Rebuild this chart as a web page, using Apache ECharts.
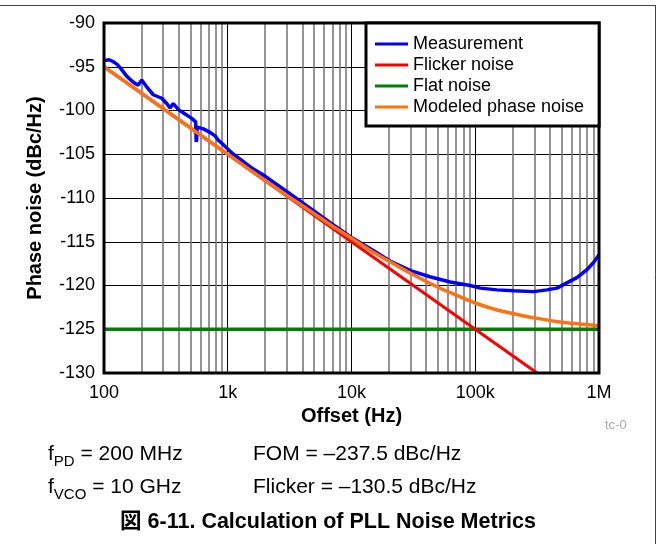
<!DOCTYPE html>
<html>
<head>
<meta charset="utf-8">
<script src="https://cdn.jsdelivr.net/npm/echarts@6/dist/echarts.min.js"></script>
<style>
html,body{margin:0;padding:0;background:#fff;}
#chart{width:658px;height:544px;}
</style>
</head>
<body>
<div id="chart"></div>
<script>
// ---- data ----
const measFreq = [100,110,118,127,135,153,167,178,189,202,221,250,293,321,342,363,399,452,512,550,556,561,566,578,635,719,789,839,921,1000,1110,1610,2000,3390,5000,7000,10000,15000,20500,30000,43000,62600,91000,110000,150000,204000,296000,379000,457000,550000,662000,798000,900000,1000000];
const measValues = [-94.3,-94.2,-94.4,-94.7,-95.1,-96.1,-96.6,-96.9,-97.1,-96.5,-97.3,-98.2,-98.6,-99.2,-99.7,-99.2,-99.9,-100.4,-100.9,-101.3,-103.6,-103.3,-101.9,-101.8,-102.1,-102.5,-102.9,-103.4,-103.9,-104.4,-105.0,-106.7,-107.5,-109.8,-111.5,-113.0,-114.5,-116.0,-117.2,-118.3,-119.0,-119.6,-120.0,-120.3,-120.5,-120.6,-120.7,-120.5,-120.3,-119.7,-119.1,-118.2,-117.4,-116.5];

const flickerFreq = [100, 316000];
const flickerValues = [-95, -130];

const flatFreq = [100, 1000000];
const flatValues = [-125, -125];

const modelFreq = [100,200,500,1000,2000,3000,5000,7000,10000,15000,20000,30000,50000,70000,100000,150000,200000,300000,500000,700000,1000000];
const modelValues = [-95.0,-98.0,-102.0,-105.0,-108.0,-109.7,-111.8,-113.2,-114.6,-116.2,-117.2,-118.6,-120.2,-121.1,-122.0,-122.8,-123.2,-123.7,-124.2,-124.4,-124.6];

const seriesNames = ['Measurement','Flicker noise','Flat noise','Modeled phase noise'];
const xTickValues = [100,1000,10000,100000,1000000];
const xTickLabels = ['100','1k','10k','100k','1M'];
const yTicks = [-130,-125,-120,-115,-110,-105,-100,-95,-90];

const noteLines = [
  ['{m|f}{sub|PD}{m| = 200 MHz}', '{m|FOM = –237.5 dBc/Hz}'],
  ['{m|f}{sub|VCO}{m| = 10 GHz}', '{m|Flicker = –130.5 dBc/Hz}']
];
const captionText = '図 6-11. Calculation of PLL Noise Metrics';
const cornerTag = 'tc-0';

// ---- build ----
const zip = (xs, ys) => xs.map((x, i) => [x, ys[i]]);
const FONT = '"Liberation Sans", Arial, "Noto Sans CJK JP", sans-serif';

// minor grid lines (2..9 × each decade), drawn through the axes
const minorGrid = [];
for (let d = 0; d < xTickValues.length - 1; d++) {
  for (let m = 2; m <= 9; m++) {
    const f = xTickValues[d] * m;
    minorGrid.push({coords: [[f, yTicks[0]], [f, yTicks[yTicks.length - 1]]]});
  }
}

const noteRich = {
  m: {fontSize: 21, lineHeight: 24, verticalAlign: 'top', fontFamily: FONT, color: '#000'},
  sub: {fontSize: 15, lineHeight: 15, padding: [10, 0, 0, 0], verticalAlign: 'top', fontFamily: FONT, color: '#000'}
};

const chart = echarts.init(document.getElementById('chart'), null, {renderer: 'canvas'});

const option = {
  animation: false,
  backgroundColor: '#fff',
  textStyle: {fontFamily: FONT},
  grid: {
    left: 104, top: 23, right: 59, bottom: 171,
    outerBoundsMode: 'none', containLabel: false,
    show: true, borderWidth: 0, backgroundColor: '#fff'
  },
  legend: {
    data: seriesNames,
    orient: 'vertical',
    left: 366, top: 23,
    z: 20,
    padding: [12, 15, 10, 9],
    itemGap: 3,
    itemWidth: 33, itemHeight: 3,
    itemTextGap: 10,
    icon: 'rect',
    backgroundColor: '#fff',
    borderColor: '#000', borderWidth: 3, borderRadius: 0,
    textStyle: {color: '#000', fontSize: 18, fontFamily: FONT}
  },
  xAxis: {
    type: 'log', logBase: 10, min: 100, max: 1000000,
    axisLine: {show: false},
    axisTick: {show: false},
    axisLabel: {
      color: '#000', fontSize: 18, margin: 11, fontFamily: FONT,
      formatter: v => {
        const i = xTickValues.findIndex(t => Math.abs(t - v) / t < 1e-6);
        return i >= 0 ? xTickLabels[i] : '';
      }
    },
    splitLine: {show: true, lineStyle: {color: '#000', width: 1}},
    name: 'Offset (Hz)', nameLocation: 'middle', nameGap: 30,
    nameTextStyle: {color: '#000', fontSize: 20, fontWeight: 'bold', fontFamily: FONT}
  },
  yAxis: {
    type: 'value', min: yTicks[0], max: yTicks[yTicks.length - 1], interval: 5,
    axisLine: {show: false},
    axisTick: {show: false},
    axisLabel: {color: '#000', fontSize: 18, margin: 9, fontFamily: FONT},
    splitLine: {show: true, lineStyle: {color: '#000', width: 1}},
    name: 'Phase noise (dBc/Hz)', nameLocation: 'middle', nameGap: 59,
    nameTextStyle: {color: '#000', fontSize: 20, fontWeight: 'bold', fontFamily: FONT}
  },
  series: [
    {
      name: '_minorgrid', type: 'lines', coordinateSystem: 'cartesian2d',
      silent: true, z: 1, animation: false,
      lineStyle: {color: '#7a7a7a', width: 1.6, opacity: 1},
      emphasis: {disabled: true},
      data: minorGrid
    },
    {
      name: seriesNames[2], type: 'line', data: zip(flatFreq, flatValues),
      showSymbol: false, symbol: 'none', z: 3,
      lineStyle: {color: '#008000', width: 3.5}, itemStyle: {color: '#008000'}
    },
    {
      name: seriesNames[0], type: 'line', data: zip(measFreq, measValues),
      showSymbol: false, symbol: 'none', z: 4,
      lineStyle: {color: '#0000ff', width: 3.5}, itemStyle: {color: '#0000ff'}
    },
    {
      name: seriesNames[1], type: 'line', data: zip(flickerFreq, flickerValues),
      showSymbol: false, symbol: 'none', z: 5,
      lineStyle: {color: '#ff0000', width: 3}, itemStyle: {color: '#ff0000'}
    },
    {
      name: seriesNames[3], type: 'line', data: zip(modelFreq, modelValues),
      showSymbol: false, symbol: 'none', smooth: 0.3, z: 6,
      lineStyle: {color: '#ff7010', width: 3.5}, itemStyle: {color: '#ff7010'}
    }
  ],
  graphic: [
    {id: 'ftop', type: 'line', shape: {x1: 0, y1: 5.5, x2: 656, y2: 5.5}, style: {stroke: '#444', lineWidth: 1}, silent: true},
    {id: 'fright', type: 'line', shape: {x1: 655.5, y1: 5, x2: 655.5, y2: 544}, style: {stroke: '#444', lineWidth: 1}, silent: true},
    {id: 'tag', type: 'text', x: 605, y: 425, style: {text: cornerTag, fill: '#aaa', fontSize: 13, fontFamily: FONT, verticalAlign: 'middle'}},
    {id: 'n00', type: 'text', x: 48, y: 444, style: {text: noteLines[0][0], verticalAlign: 'top', rich: noteRich}},
    {id: 'n01', type: 'text', x: 253, y: 444, style: {text: noteLines[0][1], verticalAlign: 'top', rich: noteRich}},
    {id: 'n10', type: 'text', x: 48, y: 477, style: {text: noteLines[1][0], verticalAlign: 'top', rich: noteRich}},
    {id: 'n11', type: 'text', x: 253, y: 477, style: {text: noteLines[1][1], verticalAlign: 'top', rich: noteRich}},
    {id: 'cap', type: 'text', x: 328, y: 522, style: {text: captionText, fill: '#000', fontSize: 21.5, fontWeight: 'bold', fontFamily: FONT, align: 'center', verticalAlign: 'middle'}}
  ]
};
chart.setOption(option);

// plot frame drawn on top of the grid lines, placed from the axes' own scale
const p0 = chart.convertToPixel({gridIndex: 0}, [xTickValues[0], yTicks[yTicks.length - 1]]);
const p1 = chart.convertToPixel({gridIndex: 0}, [xTickValues[xTickValues.length - 1], yTicks[0]]);
chart.setOption({
  graphic: [{
    id: 'plotframe', type: 'rect', z: 10, silent: true,
    shape: {x: p0[0], y: p0[1], width: p1[0] - p0[0], height: p1[1] - p0[1]},
    style: {fill: 'none', stroke: '#000', lineWidth: 3}
  }]
});
</script>
</body>
</html>
